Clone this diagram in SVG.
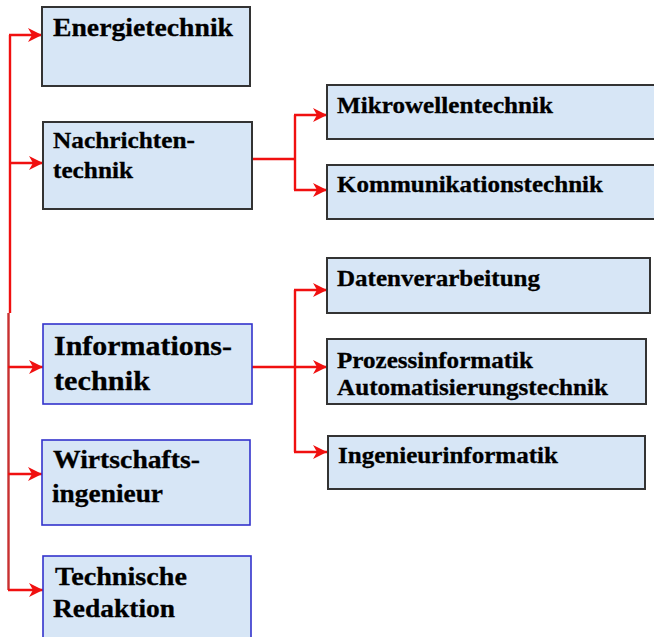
<svg xmlns="http://www.w3.org/2000/svg" width="654" height="637" viewBox="0 0 654 637">
<style>
.box{fill:#d7e6f6;stroke:#333;stroke-width:2}
.bbox{fill:#d7e6f6;stroke:#3333cc;stroke-width:1.6}
.t{font-family:"Liberation Serif","Times New Roman",serif;font-weight:bold;fill:#000;stroke:#000;stroke-width:0.3}
.c{fill:none;stroke:#f01010;stroke-width:2.4}
.c2{fill:none;stroke:#c83030;stroke-width:2.4}
</style>
<defs>
<marker id="ah" markerUnits="userSpaceOnUse" viewBox="-15 -8 16 16" refX="0" refY="0" markerWidth="16" markerHeight="16" orient="auto">
<path d="M0,0 L-14,-7 L-10,0 L-14,7 Z" fill="#f01010"/>
</marker>
</defs>
<rect width="654" height="637" fill="#fff"/>
<g id="connectors">
<path class="c" d="M10,35 V313"/>
<path class="c2" d="M8.5,313 V590"/>
<path class="c" d="M9,35 H42" marker-end="url(#ah)"/>
<path class="c" d="M9,163 H43" marker-end="url(#ah)"/>
<path class="c" d="M8,367 H43" marker-end="url(#ah)"/>
<path class="c" d="M8,474 H42" marker-end="url(#ah)"/>
<path class="c" d="M8,590 H43" marker-end="url(#ah)"/>
<path class="c" d="M252,159 H295"/>
<path class="c" d="M295,115 V190"/>
<path class="c" d="M294,115 H327" marker-end="url(#ah)"/>
<path class="c" d="M294,190 H327" marker-end="url(#ah)"/>
<path class="c" d="M252,367 H327" marker-end="url(#ah)"/>
<path class="c" d="M295,290 V452"/>
<path class="c" d="M294,290 H327" marker-end="url(#ah)"/>
<path class="c" d="M294,452 H327" marker-end="url(#ah)"/>
</g>
<g id="energietechnik">
<rect class="box" x="42" y="7" width="208" height="79"/>
<text class="t" x="53" y="36" font-size="25" textLength="180" lengthAdjust="spacingAndGlyphs">Energietechnik</text>
</g>
<g id="nachrichtentechnik">
<rect class="box" x="43" y="122" width="209" height="87"/>
<text class="t" x="53" y="148" font-size="23.5" textLength="142" lengthAdjust="spacingAndGlyphs">Nachrichten-</text>
<text class="t" x="53" y="178" font-size="23.5" textLength="80" lengthAdjust="spacingAndGlyphs">technik</text>
</g>
<g id="informationstechnik">
<rect class="bbox" x="43" y="324" width="209" height="80"/>
<text class="t" x="54" y="355" font-size="28" textLength="178" lengthAdjust="spacingAndGlyphs">Informations-</text>
<text class="t" x="54" y="390" font-size="28" textLength="96" lengthAdjust="spacingAndGlyphs">technik</text>
</g>
<g id="wirtschaftsingenieur">
<rect class="bbox" x="42" y="440" width="208" height="85"/>
<text class="t" x="53" y="468" font-size="26" textLength="147" lengthAdjust="spacingAndGlyphs">Wirtschafts-</text>
<text class="t" x="52" y="502" font-size="26" textLength="111" lengthAdjust="spacingAndGlyphs">ingenieur</text>
</g>
<g id="technische-redaktion">
<rect class="bbox" x="43" y="556" width="208" height="100"/>
<text class="t" x="55" y="585" font-size="26" textLength="132" lengthAdjust="spacingAndGlyphs">Technische</text>
<text class="t" x="53" y="617" font-size="26" textLength="122" lengthAdjust="spacingAndGlyphs">Redaktion</text>
</g>
<g id="mikrowellentechnik">
<rect class="box" x="327" y="85" width="340" height="54"/>
<text class="t" x="337" y="113" font-size="23.5" textLength="216" lengthAdjust="spacingAndGlyphs">Mikrowellentechnik</text>
</g>
<g id="kommunikationstechnik">
<rect class="box" x="327" y="165" width="340" height="54"/>
<text class="t" x="337" y="192" font-size="23.5" textLength="266" lengthAdjust="spacingAndGlyphs">Kommunikationstechnik</text>
</g>
<g id="datenverarbeitung">
<rect class="box" x="327" y="258" width="323" height="55"/>
<text class="t" x="337" y="286" font-size="23.5" textLength="203" lengthAdjust="spacingAndGlyphs">Datenverarbeitung</text>
</g>
<g id="prozessinformatik">
<rect class="box" x="327" y="339" width="319" height="65"/>
<text class="t" x="337" y="368" font-size="23.5" textLength="196" lengthAdjust="spacingAndGlyphs">Prozessinformatik</text>
<text class="t" x="337" y="395" font-size="23.5" textLength="271" lengthAdjust="spacingAndGlyphs">Automatisierungstechnik</text>
</g>
<g id="ingenieurinformatik">
<rect class="box" x="328" y="436" width="317" height="53"/>
<text class="t" x="338" y="463" font-size="23.5" textLength="220" lengthAdjust="spacingAndGlyphs">Ingenieurinformatik</text>
</g>
</svg>
